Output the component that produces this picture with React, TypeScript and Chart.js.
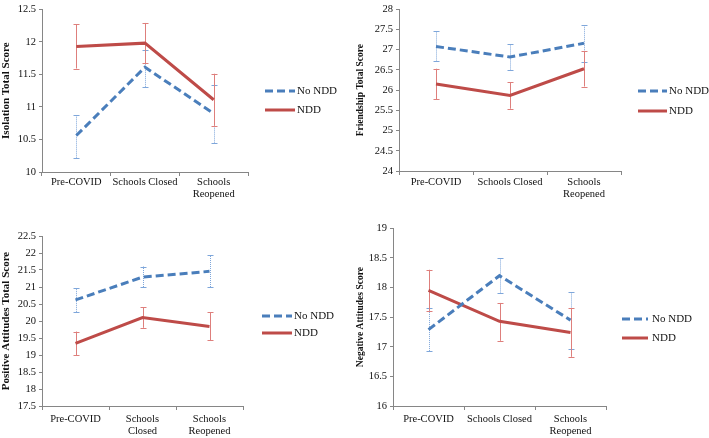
import React, { useEffect, useRef } from "react";
import { Chart, registerables } from "chart.js";
Chart.register(...registerables);

// ---------- DATA ----------
const labelsWide: (string | string[])[] = ["Pre-COVID", "Schools Closed", ["Schools", "Reopened"]];
const labelsNarrow: (string | string[])[] = ["Pre-COVID", ["Schools", "Closed"], ["Schools", "Reopened"]];
const seriesNames = ["No NDD", "NDD"];

const isolationNoNDD = [10.56, 11.61, 10.9];
const isolationNoNDDLow = [10.21, 11.31, 10.44];
const isolationNoNDDHigh = [10.88, 11.88, 11.34];
const isolationNDD = [11.93, 11.98, 11.11];
const isolationNDDLow = [11.59, 11.67, 10.71];
const isolationNDDHigh = [12.27, 12.29, 11.51];

const friendshipNoNDD = [27.08, 26.82, 27.16];
const friendshipNoNDDLow = [26.71, 26.51, 26.69];
const friendshipNoNDDHigh = [27.46, 27.14, 27.62];
const friendshipNDD = [26.15, 25.87, 26.53];
const friendshipNDDLow = [25.78, 25.54, 26.09];
const friendshipNDDHigh = [26.53, 26.2, 26.97];

const positiveNoNDD = [20.62, 21.29, 21.46];
const positiveNoNDDLow = [20.27, 21.0, 21.0];
const positiveNoNDDHigh = [20.97, 21.6, 21.93];
const positiveNDD = [19.34, 20.1, 19.84];
const positiveNDDLow = [18.99, 19.8, 19.43];
const positiveNDDHigh = [19.69, 20.4, 20.26];

const negativeNoNDD = [17.29, 18.2, 17.45];
const negativeNoNDDLow = [16.93, 17.9, 16.97];
const negativeNoNDDHigh = [17.65, 18.5, 17.92];
const negativeNDD = [17.95, 17.43, 17.24];
const negativeNDDLow = [17.61, 17.1, 16.83];
const negativeNDDHigh = [18.3, 17.74, 17.65];

const isolationRange = [10, 12.5];
const friendshipRange = [24, 28];
const positiveRange = [17.5, 22.5];
const negativeRange = [16, 19];

// ---------- STYLE ----------
const FONT = "'Liberation Serif', 'Times New Roman', serif";
const BLUE = "#4a7ebb";
const RED = "#be4b48";
const BLUE_ERR = "#7ea6da";
const RED_ERR = "#de7f7c";
const AXIS = "#868686";
const TEXT = "#111111";

type Panel = {
  title: string;
  titleSize: number;
  labels: (string | string[])[];
  noNDD: number[]; noLow: number[]; noHigh: number[];
  ndd: number[]; nddLow: number[]; nddHigh: number[];
  range: number[];
  ox: number; oy: number; w: number; h: number;
  L: number; T: number; R: number; B: number;
  yW: number; xPad: number;
  lx1: number; lx2: number; ltx: number; ly: number[];
};

const panels: Panel[] = [
  {
    title: "Isolation Total Score", titleSize: 11, labels: labelsWide,
    noNDD: isolationNoNDD, noLow: isolationNoNDDLow, noHigh: isolationNoNDDHigh,
    ndd: isolationNDD, nddLow: isolationNDDLow, nddHigh: isolationNDDHigh, range: isolationRange,
    ox: 0, oy: 0, w: 355, h: 219, L: 42, T: 7, R: 248, B: 172, yW: 42, xPad: 0,
    lx1: 265, lx2: 295, ltx: 297, ly: [91, 110],
  },
  {
    title: "Friendship Total Score", titleSize: 9.5, labels: labelsWide,
    noNDD: friendshipNoNDD, noLow: friendshipNoNDDLow, noHigh: friendshipNoNDDHigh,
    ndd: friendshipNDD, nddLow: friendshipNDDLow, nddHigh: friendshipNDDHigh, range: friendshipRange,
    ox: 355, oy: 0, w: 354, h: 219, L: 399, T: 9, R: 621, B: 171, yW: 44, xPad: 1,
    lx1: 638, lx2: 667, ltx: 669, ly: [91, 111],
  },
  {
    title: "Positive Attitudes Total Score", titleSize: 11, labels: labelsNarrow,
    noNDD: positiveNoNDD, noLow: positiveNoNDDLow, noHigh: positiveNoNDDHigh,
    ndd: positiveNDD, nddLow: positiveNDDLow, nddHigh: positiveNDDHigh, range: positiveRange,
    ox: 0, oy: 219, w: 355, h: 219, L: 42, T: 236, R: 243, B: 406, yW: 42, xPad: 3,
    lx1: 262, lx2: 292, ltx: 294, ly: [316, 333],
  },
  {
    title: "Negative Attitudes Score", titleSize: 9.5, labels: labelsWide,
    noNDD: negativeNoNDD, noLow: negativeNoNDDLow, noHigh: negativeNoNDDHigh,
    ndd: negativeNDD, nddLow: negativeNDDLow, nddHigh: negativeNDDHigh, range: negativeRange,
    ox: 355, oy: 219, w: 354, h: 219, L: 393, T: 226, R: 606, B: 406, yW: 38, xPad: 3,
    lx1: 622, lx2: 648, ltx: 652, ly: [319, 338],
  },
];

const X_AXIS_H = 30;

const errorBarPlugin = {
  id: "errorBars",
  beforeDatasetsDraw(chart: any) {
    const ctx = chart.ctx;
    const yScale = chart.scales.y;
    chart.data.datasets.forEach((ds: any, i: number) => {
      const meta = chart.getDatasetMeta(i);
      if (!ds.errLow) return;
      ctx.save();
      ctx.strokeStyle = ds.errColor;
      ctx.lineWidth = 1;
      ctx.setLineDash(ds.errDash || []);
      meta.data.forEach((pt: any, j: number) => {
        const x = Math.round(pt.x) + 0.5;
        const y1 = yScale.getPixelForValue(ds.errLow[j]);
        const y2 = yScale.getPixelForValue(ds.errHigh[j]);
        ctx.beginPath();
        ctx.moveTo(x, y1);
        ctx.lineTo(x, y2);
        ctx.stroke();
        ctx.setLineDash([]);
        ctx.beginPath();
        ctx.moveTo(x - 3, Math.round(y1) + 0.5);
        ctx.lineTo(x + 3, Math.round(y1) + 0.5);
        ctx.moveTo(x - 3, Math.round(y2) + 0.5);
        ctx.lineTo(x + 3, Math.round(y2) + 0.5);
        ctx.stroke();
        ctx.setLineDash(ds.errDash || []);
      });
      ctx.restore();
    });
  },
};

const sideLegendPlugin = {
  id: "sideLegend",
  afterDraw(chart: any, _args: any, opts: any) {
    const ctx = chart.ctx;
    ctx.save();
    chart.data.datasets.forEach((ds: any, i: number) => {
      const y = opts.ys[i];
      ctx.strokeStyle = ds.borderColor;
      ctx.lineWidth = ds.borderWidth;
      ctx.setLineDash(ds.borderDash || []);
      ctx.beginPath();
      ctx.moveTo(opts.x1, y);
      ctx.lineTo(opts.x2, y);
      ctx.stroke();
      ctx.setLineDash([]);
      ctx.fillStyle = TEXT;
      ctx.font = `11px ${FONT}`;
      ctx.textAlign = "left";
      ctx.textBaseline = "middle";
      ctx.fillText(ds.label, opts.tx, y);
    });
    ctx.restore();
  },
};

function PanelChart({ p }: { p: Panel }) {
  const ref = useRef<HTMLCanvasElement | null>(null);
  useEffect(() => {
    if (!ref.current) return;
    const chart = new Chart(ref.current, {
      type: "line",
      data: {
        labels: p.labels as any,
        datasets: [
          {
            label: seriesNames[0],
            data: p.noNDD,
            borderColor: BLUE,
            borderWidth: 3,
            borderDash: [8, 4],
            pointRadius: 0,
            tension: 0,
            fill: false,
            errLow: p.noLow,
            errHigh: p.noHigh,
            errColor: BLUE_ERR,
            errDash: [1, 1],
          } as any,
          {
            label: seriesNames[1],
            data: p.ndd,
            borderColor: RED,
            borderWidth: 3,
            pointRadius: 0,
            tension: 0,
            fill: false,
            errLow: p.nddLow,
            errHigh: p.nddHigh,
            errColor: RED_ERR,
            errDash: [],
          } as any,
        ],
      },
      options: {
        responsive: false,
        animation: false,
        events: [],
        layout: {
          padding: {
            left: p.L - p.ox - p.yW,
            top: p.T - p.oy,
            right: p.ox + p.w - p.R,
            bottom: p.oy + p.h - p.B - X_AXIS_H,
          },
        },
        plugins: {
          legend: { display: false },
          tooltip: { enabled: false },
          sideLegend: {
            x1: p.lx1 - p.ox,
            x2: p.lx2 - p.ox,
            tx: p.ltx - p.ox,
            ys: p.ly.map((v) => v - p.oy),
          },
        } as any,
        scales: {
          x: {
            type: "category",
            offset: true,
            border: { color: AXIS, width: 1 },
            grid: {
              offset: true,
              drawOnChartArea: false,
              drawTicks: true,
              tickLength: 4,
              color: AXIS,
            },
            ticks: {
              color: TEXT,
              font: { family: FONT, size: 10.5, lineHeight: 1.15 },
              maxRotation: 0,
              minRotation: 0,
              autoSkip: false,
              padding: p.xPad,
            },
            afterFit: (s: any) => {
              s.height = X_AXIS_H;
            },
          },
          y: {
            min: p.range[0],
            max: p.range[1],
            border: { color: AXIS, width: 1 },
            grid: {
              drawOnChartArea: false,
              drawTicks: true,
              tickLength: 3,
              color: AXIS,
            },
            ticks: {
              stepSize: 0.5,
              color: TEXT,
              font: { family: FONT, size: 10.5 },
              padding: 3,
              callback: (v: any) => String(v),
            },
            title: {
              display: true,
              text: p.title,
              color: TEXT,
              font: { family: FONT, size: p.titleSize, weight: "bold" },
              padding: { top: 0, bottom: 0 },
            },
            afterFit: (s: any) => {
              s.width = p.yW;
            },
          },
        },
      },
      plugins: [errorBarPlugin, sideLegendPlugin],
    });
    return () => chart.destroy();
  }, [p]);
  return (
    <canvas
      ref={ref}
      width={p.w}
      height={p.h}
      style={{ position: "absolute", left: p.ox, top: p.oy, width: p.w, height: p.h }}
    />
  );
}

export default function App() {
  return (
    <div
      style={{
        position: "absolute",
        left: 0,
        top: 0,
        width: 709,
        height: 438,
        background: "#ffffff",
        overflow: "hidden",
      }}
    >
      {panels.map((p, i) => (
        <PanelChart key={i} p={p} />
      ))}
    </div>
  );
}
